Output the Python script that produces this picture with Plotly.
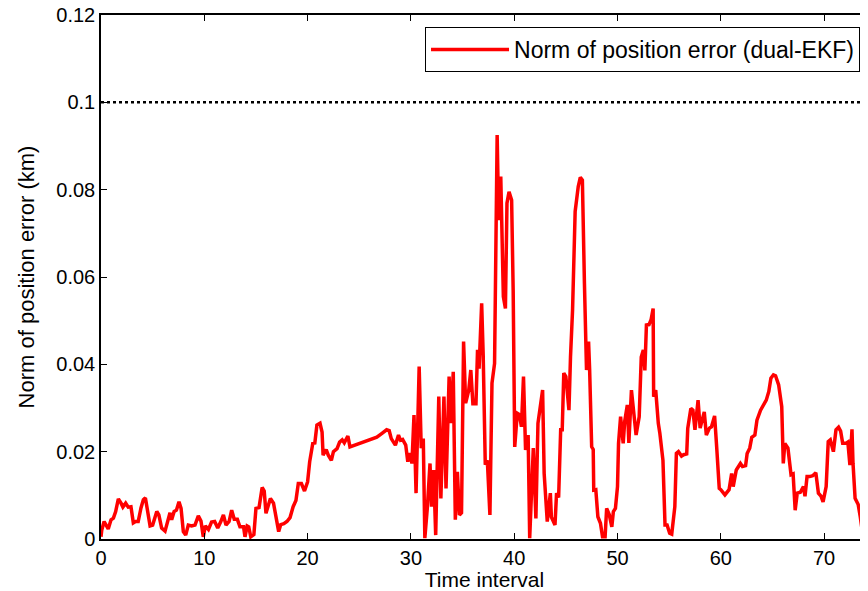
import plotly.graph_objects as go

# values
time_interval = [
    0.0, 0.07, 0.3, 0.55, 0.7, 0.97, 1.2, 1.42, 1.68, 1.94, 2.12, 2.39, 2.64, 2.9,
    3.13, 3.35, 3.6, 3.87, 4.1, 4.3, 4.5, 4.75, 5.0, 5.4, 5.6, 5.87, 6.2, 6.4,
    6.68, 6.84, 7.08, 7.3, 7.55, 7.75, 7.97, 8.2, 8.45, 8.77, 9.1, 9.42, 9.68,
    9.9, 10.1, 10.4, 10.7, 11.0, 11.3, 11.6, 11.85, 12.1, 12.4, 12.65, 12.9,
    13.2, 13.45, 13.8, 13.94, 14.15, 14.3, 14.5, 14.8, 15.0, 15.3, 15.6, 15.8,
    15.97, 16.1, 16.4, 16.7, 16.9, 17.2, 17.4, 17.7, 18.0, 18.3, 18.6, 18.87,
    19.1, 19.4, 19.7, 20.0, 20.2, 20.5, 20.7, 20.9, 21.2, 21.4, 21.5, 21.8,
    22.0, 22.3, 22.5, 22.85, 23.1, 23.35, 23.55, 23.9, 24.1, 24.6, 25.0, 25.4,
    26.0, 26.7, 27.2, 27.65, 27.9, 28.1, 28.5, 28.8, 29.0, 29.2, 29.5, 29.7,
    29.9, 30.1, 30.3, 30.5, 30.8, 31.0, 31.2, 31.35, 31.6, 31.85, 32.0, 32.2,
    32.4, 32.7, 32.9, 33.2, 33.4, 33.7, 33.9, 34.1, 34.3, 34.5, 34.7, 34.9,
    35.1, 35.3, 35.6, 35.8, 36.0, 36.3, 36.45, 36.6, 36.85, 37.0, 37.2, 37.4,
    37.65, 37.85, 38.1, 38.35, 38.5, 38.7, 38.95, 39.15, 39.3, 39.5, 39.75,
    39.9, 40.05, 40.3, 40.5, 40.7, 40.9, 41.1, 41.35, 41.5, 41.85, 42.1, 42.3,
    42.75, 42.9, 43.2, 43.5, 43.6, 43.95, 44.1, 44.3, 44.4, 44.5, 44.65, 44.8,
    45.0, 45.3, 45.45, 45.65, 45.9, 46.2, 46.4, 46.6, 46.8, 47.0, 47.2, 47.3,
    47.5, 47.65, 47.7, 47.9, 48.1, 48.35, 48.55, 48.8, 48.95, 49.2, 49.45,
    49.6, 49.8, 50.0, 50.1, 50.3, 50.55, 50.7, 50.95, 51.1, 51.35, 51.6, 51.8,
    52.1, 52.3, 52.5, 52.65, 52.8, 53.05, 53.25, 53.45, 53.5, 53.7, 53.95,
    54.1, 54.4, 54.6, 54.8, 55.05, 55.25, 55.55, 55.7, 55.9, 56.2, 56.4, 56.7,
    56.8, 57.1, 57.3, 57.5, 57.8, 58.0, 58.4, 58.6, 58.9, 59.1, 59.4, 59.6,
    59.85, 60.0, 60.4, 60.8, 61.05, 61.2, 61.5, 61.9, 62.1, 62.4, 62.55, 62.8,
    63.0, 63.3, 63.5, 63.85, 64.1, 64.4, 64.65, 64.85, 65.1, 65.3, 65.6, 65.8,
    65.9, 66.05, 66.2, 66.5, 66.65, 66.8, 67.0, 67.2, 67.4, 67.7, 68.0, 68.15,
    68.35, 68.6, 68.9, 69.2, 69.45, 69.7, 69.9, 70.2, 70.4, 70.6, 70.9, 71.15,
    71.4, 71.6, 71.8, 72.1, 72.3, 72.5, 72.7, 72.8, 73.0, 73.3, 73.5, 73.7,
    74.0, 74.25,
]
pos_error_norm = [
    0.0005, 0.002, 0.004, 0.0028, 0.0023, 0.0044, 0.0048, 0.0063, 0.0092, 0.0082,
    0.0073, 0.0082, 0.0073, 0.0074, 0.0037, 0.004, 0.004, 0.0071, 0.009, 0.0094,
    0.0066, 0.003, 0.0032, 0.0063, 0.0055, 0.0025, 0.0018, 0.0037, 0.006, 0.0044,
    0.0063, 0.0066, 0.0085, 0.007, 0.0017, 0.0009, 0.0032, 0.003, 0.0032, 0.0053,
    0.0041, 0.0005, 0.003, 0.0022, 0.0039, 0.004, 0.0025, 0.004, 0.0055, 0.0032,
    0.004, 0.0066, 0.0045, 0.0045, 0.0028, 0.0028, 0.0005, 0.003, 0.0028, 0.0005,
    0.001, 0.007, 0.0072, 0.0118, 0.011, 0.0059, 0.007, 0.0093, 0.0082, 0.0056,
    0.0017, 0.0033, 0.0035, 0.004, 0.0049, 0.0074, 0.0088, 0.0127, 0.0127, 0.011,
    0.0131, 0.0177, 0.0219, 0.022, 0.0261, 0.0265, 0.0245, 0.0192, 0.0205, 0.0192,
    0.018, 0.02, 0.0207, 0.0222, 0.0227, 0.022, 0.0236, 0.0211, 0.0215, 0.0218,
    0.0223, 0.0226, 0.0233, 0.0242, 0.025, 0.0248, 0.023, 0.0215, 0.0238, 0.0226,
    0.0228, 0.0215, 0.0177, 0.0197, 0.0173, 0.0284, 0.0105, 0.0395, 0.0208, 0.023,
    0.0002, 0.0074, 0.0173, 0.0074, 0.0158, 0.0009, 0.0326, 0.0093, 0.0326, 0.0116,
    0.0372, 0.0265, 0.0383, 0.0044, 0.0154, 0.0055, 0.006, 0.0452, 0.0311, 0.0341,
    0.0387, 0.031, 0.031, 0.0433, 0.039, 0.054, 0.042, 0.017, 0.018, 0.0055,
    0.0357, 0.0402, 0.0925, 0.073, 0.083, 0.0555, 0.0528, 0.0769, 0.0795, 0.0776,
    0.057, 0.0211, 0.0288, 0.0285, 0.0257, 0.0372, 0.0204, 0.0238, 0.0002, 0.0208,
    0.0047, 0.0265, 0.0341, 0.015, 0.004, 0.0105, 0.005, 0.0032, 0.0105, 0.0095,
    0.0219, 0.025, 0.025, 0.038, 0.0372, 0.0295, 0.0417, 0.0524, 0.075, 0.0807,
    0.0828, 0.0822, 0.0585, 0.0387, 0.0452, 0.039, 0.0211, 0.0205, 0.0112, 0.0113,
    0.0051, 0.0036, 0.0005, 0.0005, 0.007, 0.0056, 0.0028, 0.0063, 0.007, 0.012,
    0.0219, 0.028, 0.0219, 0.027, 0.0307, 0.022, 0.0341, 0.0288, 0.0238, 0.028,
    0.0417, 0.0433, 0.0386, 0.049, 0.0491, 0.0502, 0.0528, 0.0326, 0.0341, 0.0265,
    0.0242, 0.018, 0.0032, 0.0032, 0.0013, 0.0011, 0.0074, 0.0196, 0.02, 0.019,
    0.0193, 0.0195, 0.0253, 0.0299, 0.0295, 0.025, 0.0318, 0.0254, 0.0291, 0.0238,
    0.0254, 0.0257, 0.0282, 0.0211, 0.0116, 0.0113, 0.0101, 0.0113, 0.015, 0.012,
    0.0158, 0.0173, 0.0166, 0.0168, 0.0196, 0.0208, 0.0233, 0.0238, 0.0272, 0.0295,
    0.0307, 0.0318, 0.0338, 0.0368, 0.0376, 0.0374, 0.0353, 0.0318, 0.0303, 0.0173,
    0.0219, 0.0208, 0.0168, 0.0147, 0.0149, 0.0066, 0.0105, 0.0107, 0.012, 0.0098,
    0.0143, 0.0143, 0.0145, 0.0152, 0.0105, 0.0098, 0.0085, 0.012, 0.0223, 0.0227,
    0.02, 0.025, 0.0256, 0.0247, 0.0219, 0.0219, 0.0222, 0.0169, 0.0251, 0.0173,
    0.0093, 0.0079, 0.0051, 0.0017, 0.0016, 0.0018,
]
threshold_x = [0, 74.25]
threshold_y = [0.1, 0.1]

x_ticks = [0, 10, 20, 30, 40, 50, 60, 70]
y_ticks = [0, 0.02, 0.04, 0.06, 0.08, 0.1, 0.12]
y_labels = ["0", "0.02", "0.04", "0.06", "0.08", "0.1", "0.12"]

fig = go.Figure()
fig.add_trace(go.Scatter(x=threshold_x, y=threshold_y, mode="lines",
                         line=dict(color="black", width=2.5, dash="dot"),
                         showlegend=False, hoverinfo="skip"))
fig.add_trace(go.Scatter(x=time_interval, y=pos_error_norm, mode="lines",
                         name="Norm of position error (dual-EKF)",
                         line=dict(color="#ff0000", width=3.5)))

axis_common = dict(showline=True, linecolor="black", linewidth=1.5,
                   ticks="inside", ticklen=6, tickcolor="black",
                   showgrid=False, zeroline=False, automargin=False,
                   ticklabeloverflow="allow",
                   tickfont=dict(size=20, color="black"))

fig.update_xaxes(range=[0, 74.25], tickvals=x_ticks, mirror="ticks",
                 title=dict(text="Time interval", font=dict(size=21, color="black"),
                            standoff=0),
                 **axis_common)
fig.update_yaxes(range=[0, 0.12], tickvals=y_ticks, ticktext=y_labels, mirror=False,
                 title=dict(text="Norm of position error (km)",
                            font=dict(size=22, color="black"), standoff=16),
                 **axis_common)

# page body has an 8px margin, so the figure is a little smaller than the window
fig.update_layout(
    template="none",
    width=860, height=583,
    margin=dict(l=93, r=0, t=7, b=52),
    plot_bgcolor="white", paper_bgcolor="white",
    font=dict(family="Liberation Sans, Arial, sans-serif", color="black"),
    legend=dict(x=0.9896, y=0.977, xanchor="right", yanchor="top",
                bordercolor="black", borderwidth=1, bgcolor="white",
                font=dict(size=23), itemwidth=78),
)

fig.write_html("out.html")
